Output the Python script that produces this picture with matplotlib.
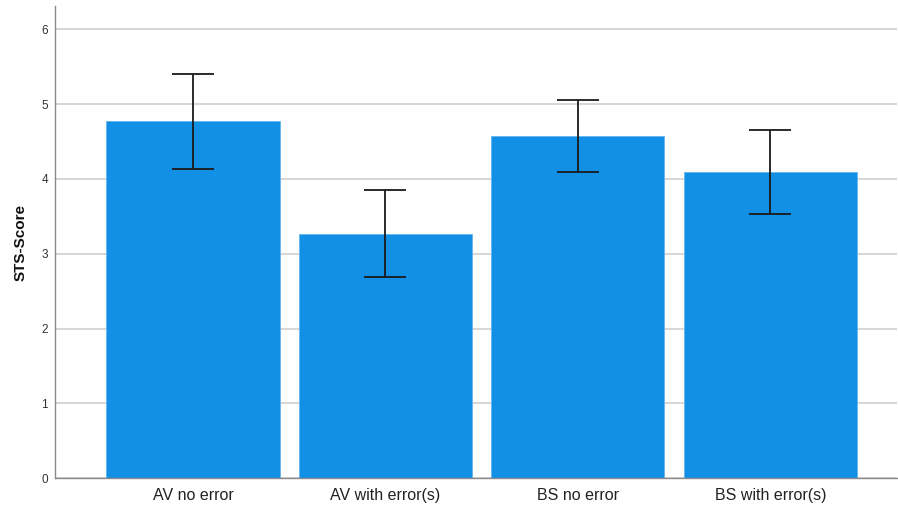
import matplotlib
matplotlib.use("Agg")
import matplotlib.pyplot as plt
import numpy as np

plt.rcParams["font.family"] = ["Liberation Sans", "DejaVu Sans"]

categories = ["AV no error", "AV with error(s)", "BS no error", "BS with error(s)"]
means = [4.77, 3.27, 4.57, 4.09]
err_low = [4.13, 2.69, 4.09, 3.53]
err_high = [5.40, 3.85, 5.05, 4.66]

fig = plt.figure(figsize=(8.98, 5.08), dpi=100)
ax = fig.add_axes([0.0612, 0.0585, 0.938, 0.9295])

x = np.arange(len(categories))
yerr = np.array([[m - l for m, l in zip(means, err_low)],
                 [h - m for m, h in zip(means, err_high)]])
ax.bar(x, means, width=0.9, color="#1290e6", edgecolor="#62b4ee", linewidth=0.6, zorder=2)
ax.errorbar(x, means, yerr=yerr, fmt="none", ecolor="#1a1a1a", elinewidth=1.3,
            capsize=14.8, capthick=1.3, zorder=3)

ax.set_xlim(-0.717, 3.66)
ax.set_ylim(0, 6.31)
ax.set_yticks([0, 1, 2, 3, 4, 5, 6])
ax.set_xticks(x)
ax.set_xticklabels(categories, fontsize=11.5, color="#222222")
ax.tick_params(axis="y", labelsize=8.5, colors="#333333", length=0, pad=5)
ax.tick_params(axis="x", length=0, pad=7)
ax.yaxis.grid(True, color="#cfcfcf", linewidth=1.2, zorder=0)
ax.set_axisbelow(True)
for s in ["top", "right"]:
    ax.spines[s].set_visible(False)
for s in ["left", "bottom"]:
    ax.spines[s].set_color("#8a8a8a")
    ax.spines[s].set_linewidth(1.0)
ax.set_ylabel("STS-Score", fontsize=11, fontweight="bold", color="#111111", labelpad=10)

fig.savefig("out.png", dpi=100)
